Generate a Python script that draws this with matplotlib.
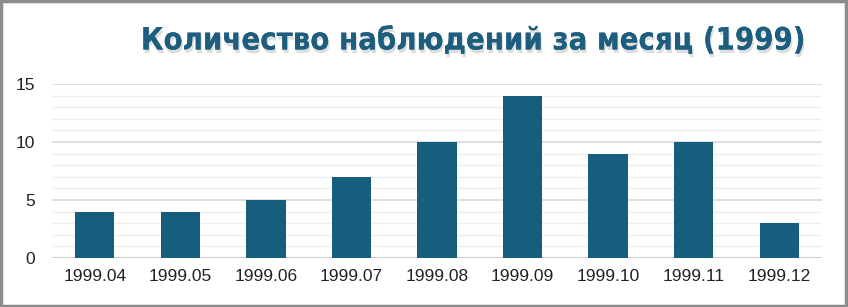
import matplotlib
matplotlib.use("Agg")
import matplotlib.pyplot as plt
import matplotlib.patheffects as pe
from matplotlib.patches import Rectangle

months = ['1999.04', '1999.05', '1999.06', '1999.07', '1999.08',
          '1999.09', '1999.10', '1999.11', '1999.12']
counts = [4, 4, 5, 7, 10, 14, 9, 10, 3]
title = 'Количество наблюдений за месяц (1999)'

bar_color = '#175E7E'

fig = plt.figure(figsize=(8.48, 3.07), dpi=100)
ax = fig.add_axes([52/848, 1-258/307, 770/848, 174/307])

x = range(len(months))
ax.bar(x, counts, width=0.46, color=bar_color, zorder=3)

ax.set_xlim(-0.5, len(months)-0.5)
ax.set_ylim(0, 15)
ax.set_yticks([0, 5, 10, 15])
ax.set_yticks(range(0, 16), minor=True)
ax.set_xticks(list(x))
ax.set_xticklabels(months)
ax.grid(axis='y', which='major', color='#D9D9D9', linewidth=1.2, zorder=0)
ax.grid(axis='y', which='minor', color='#EFEFEF', linewidth=1.0, zorder=0)
ax.tick_params(axis='both', which='both', length=0, labelsize=12.5, colors='#222222')
ax.tick_params(axis='x', pad=8)
ax.tick_params(axis='y', pad=12)
for lbl in ax.get_xticklabels() + ax.get_yticklabels():
    lbl.set_fontfamily('Liberation Sans')
for s in ax.spines.values():
    s.set_visible(False)
ax.axhline(0, color='#D0D0D0', linewidth=1.5, zorder=2)

fig.text(474/848, 1-41/307, title, ha='center', va='center',
         fontsize=22.2, fontweight='bold', fontstretch='condensed',
         family='DejaVu Sans', color='#1D5E7E',
         path_effects=[pe.withSimplePatchShadow(offset=(1, -2.5), shadow_rgbFace='#a0a0a0', alpha=0.35),
                       pe.Normal()])

fig.patches.append(Rectangle((0.001, 0.002), 0.997, 0.995, transform=fig.transFigure,
                             fill=False, edgecolor='#8C8C8C', linewidth=2.5))

fig.savefig('out.png', dpi=100)
